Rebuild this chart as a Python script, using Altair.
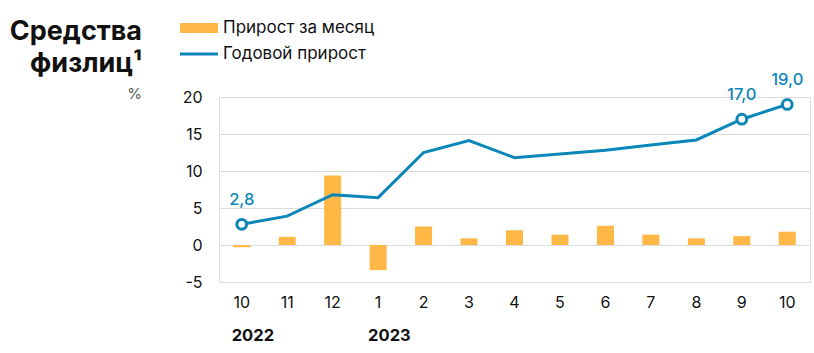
import altair as alt
import pandas as pd

months = ["10", "11", "12", "1", "2", "3", "4", "5", "6", "7", "8", "9", "10"]
years = [2022, 2022, 2022, 2023, 2023, 2023, 2023, 2023, 2023, 2023, 2023, 2023, 2023]
monthly = [-0.3, 1.1, 9.4, -3.4, 2.5, 0.9, 2.0, 1.4, 2.6, 1.4, 0.9, 1.2, 1.8]
annual = [2.8, 3.9, 6.8, 6.4, 12.5, 14.1, 11.8, 12.3, 12.8, 13.5, 14.2, 17.0, 19.0]
highlight = [0, 11, 12]
year_labels = ["2022", "2023"]
year_label_idx = [0, 3]
y_ticks = [-5, 0, 5, 10, 15, 20]

FONT = "Inter"
BLUE = "#0a87b8"
ORANGE = "#ffb846"

keys = [f"{m}.{y}" for m, y in zip(months, years)]
df = pd.DataFrame({"key": keys, "monthly": monthly, "annual": annual})
hl = pd.DataFrame({
    "key": [keys[i] for i in highlight],
    "annual": [annual[i] for i in highlight],
    "label": [f"{annual[i]:.1f}".replace(".", ",") for i in highlight],
})
yr = pd.DataFrame({"key": [keys[i] for i in year_label_idx], "label": year_labels})

xscale = alt.Scale(domain=keys, paddingInner=0.625, paddingOuter=0.3125)
xenc = alt.X("key:N", scale=xscale, sort=keys, title=None,
             axis=alt.Axis(labelExpr="split(datum.label, '.')[0]", labelAngle=0,
                           ticks=False, domain=False, grid=False, labelPadding=12,
                           labelFontSize=16, labelColor="#111", labelFont=FONT))
yscale = alt.Scale(domain=[-5, 20], nice=False)
yenc_axis = alt.Axis(values=y_ticks, tickCount=len(y_ticks), ticks=False, domain=False,
                     grid=True, gridColor="#dcdcdc", gridWidth=1, labelPadding=17,
                     labelFontSize=16, labelColor="#111", labelFont=FONT,
                     labelOverlap=False, labelFlush=False, labelBound=False,
                     labelExpr="datum.value < 0 ? '-' + abs(datum.value) : '' + datum.value")

xo = alt.X("key:N", sort=keys, title=None)
base = alt.Chart(df)
bars = base.mark_bar(color=ORANGE).encode(
    x=xenc,
    y=alt.Y("monthly:Q", scale=yscale, axis=yenc_axis, title=None),
)
line = base.mark_line(color=BLUE, strokeWidth=3).encode(
    x=xo, y=alt.Y("annual:Q", title=None))
pts = alt.Chart(hl).mark_point(shape="circle", filled=True, fill="white", stroke=BLUE,
                               strokeWidth=3, size=95, opacity=1).encode(
    x=xo, y=alt.Y("annual:Q", title=None))
lbls = alt.Chart(hl).mark_text(color=BLUE, fontSize=16.5, font=FONT, fontWeight=500,
                               dy=-24, baseline="middle").encode(
    x=xo, y=alt.Y("annual:Q", title=None), text="label:N")
yrs = alt.Chart(yr).mark_text(align="left", dx=-10, fontSize=16.5, font=FONT,
                              fontWeight="bold", color="#111", baseline="middle").encode(
    x=xo, y=alt.value(239), text="label:N")

one = pd.DataFrame({"a": [0]})
title1 = alt.Chart(one).mark_text(align="right", baseline="alphabetic", fontSize=27,
                                  fontWeight="bold", font=FONT, color="#111").encode(
    x=alt.value(-77), y=alt.value(-57), text=alt.value("Средства"))
title2 = alt.Chart(one).mark_text(align="right", baseline="alphabetic", fontSize=27,
                                  fontWeight="bold", font=FONT, color="#111").encode(
    x=alt.value(-77), y=alt.value(-25), text=alt.value("физлиц¹"))
pct = alt.Chart(one).mark_text(align="right", baseline="alphabetic", fontSize=15,
                               font=FONT, color="#555").encode(
    x=alt.value(-77), y=alt.value(2), text=alt.value("%"))
leg_rect = alt.Chart(one).mark_rect(color=ORANGE).encode(
    x=alt.value(-39), x2=alt.value(-1), y=alt.value(-74), y2=alt.value(-64))
leg_line = alt.Chart(one).mark_rule(color=BLUE, strokeWidth=3).encode(
    x=alt.value(-39), x2=alt.value(-1), y=alt.value(-43))
leg_t1 = alt.Chart(one).mark_text(align="left", baseline="middle", fontSize=17,
                                  font=FONT, color="#111").encode(
    x=alt.value(4), y=alt.value(-69), text=alt.value("Прирост за месяц"))
leg_t2 = alt.Chart(one).mark_text(align="left", baseline="middle", fontSize=17,
                                  font=FONT, color="#111").encode(
    x=alt.value(4), y=alt.value(-43), text=alt.value("Годовой прирост"))

chart = alt.layer(bars, line, pts, lbls, yrs, title1, title2, pct,
                  leg_rect, leg_line, leg_t1, leg_t2).properties(
    width=591, height=185,
    autosize=alt.AutoSizeParams(type="none"),
    padding={"left": 219, "top": 97, "right": 4, "bottom": 71},
).configure_view(strokeWidth=0).configure(background="white")

chart.save("out.html", embed_options={"renderer": "svg", "actions": False})
